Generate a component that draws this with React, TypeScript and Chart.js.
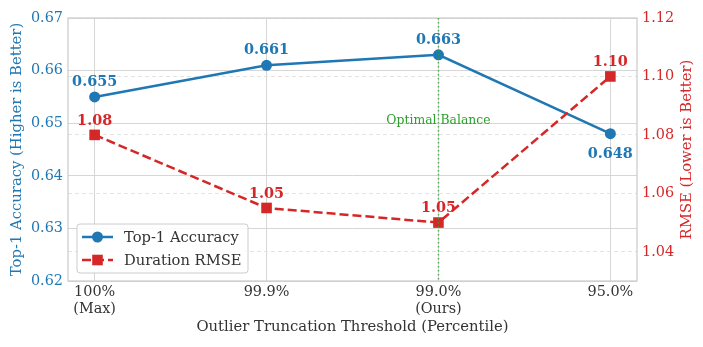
import React, { useEffect, useRef } from "react";
import { Chart, registerables } from "chart.js";

Chart.register(...registerables);

// Truncation thresholds (x categories), multi-line tick labels
const thresholds: string[][] = [["100%", "(Max)"], ["99.9%"], ["99.0%", "(Ours)"], ["95.0%"]];
// Top-1 accuracy per threshold (left axis)
const accuracy = [0.655, 0.661, 0.663, 0.648];
// Duration RMSE per threshold (right axis)
const rmse = [1.08, 1.055, 1.05, 1.1];
// Axis ticks
const accTicks = [0.62, 0.63, 0.64, 0.65, 0.66, 0.67];
const rmseTicks = [1.04, 1.06, 1.08, 1.1, 1.12];
// Highlighted threshold
const optimalIndex = 2;
const optimalLabel = "Optimal Balance";

const BLUE = "#1f77b4";
const RED = "#d62728";
const GREEN = "#2ca02c";
const DARK = "#333333";
const FONT = "'DejaVu Serif', serif";

const overlay = {
  id: "overlay",
  beforeDatasetsDraw(chart: any) {
    const { ctx, chartArea: a } = chart;
    ctx.save();
    ctx.strokeStyle = "#cccccc";
    ctx.lineWidth = 1.25;
    ctx.strokeRect(a.left, a.top, a.right - a.left, a.bottom - a.top);
    ctx.restore();
  },
  afterDatasetsDraw(chart: any) {
    const { ctx, chartArea: a, scales } = chart;
    const xs = scales.x, ys = scales.y, ys1 = scales.y1;
    ctx.save();
    // optimal threshold marker
    const ox = xs.getPixelForValue(optimalIndex);
    ctx.strokeStyle = "rgba(44,160,44,0.75)";
    ctx.lineWidth = 1.5;
    ctx.setLineDash([1.5, 2.5]);
    ctx.beginPath();
    ctx.moveTo(ox, a.top);
    ctx.lineTo(ox, a.bottom);
    ctx.stroke();
    ctx.setLineDash([]);
    ctx.fillStyle = GREEN;
    ctx.font = `12.4px ${FONT}`;
    ctx.textAlign = "center";
    ctx.textBaseline = "middle";
    ctx.fillText(optimalLabel, ox, ys.getPixelForValue(0.6505));

    // value labels
    ctx.font = `bold 14.4px ${FONT}`;
    accuracy.forEach((v, i) => {
      const px = xs.getPixelForValue(i);
      const py = ys.getPixelForValue(v);
      const below = i > 0 && v < accuracy[i - 1];
      ctx.fillStyle = BLUE;
      ctx.fillText(v.toFixed(3), px, below ? py + 21 : py - 15);
    });
    rmse.forEach((v, i) => {
      const px = xs.getPixelForValue(i);
      const py = ys1.getPixelForValue(v);
      ctx.fillStyle = RED;
      ctx.fillText(v.toFixed(2), px, py - 14);
    });
    ctx.restore();
  },
  afterDraw(chart: any) {
    const { ctx, chartArea: a, width, height } = chart;
    ctx.save();
    ctx.textAlign = "center";
    ctx.textBaseline = "middle";
    ctx.font = `14.8px ${FONT}`;
    const cy = (a.top + a.bottom) / 2;
    // left title
    ctx.save();
    ctx.translate(17, cy);
    ctx.rotate(-Math.PI / 2);
    ctx.fillStyle = BLUE;
    ctx.fillText("Top-1 Accuracy (Higher is Better)", 0, 0);
    ctx.restore();
    // right title
    ctx.save();
    ctx.translate(width - 16, cy);
    ctx.rotate(-Math.PI / 2);
    ctx.fillStyle = RED;
    ctx.fillText("RMSE (Lower is Better)", 0, 0);
    ctx.restore();
    // x title
    ctx.fillStyle = DARK;
    ctx.fillText("Outlier Truncation Threshold (Percentile)", (a.left + a.right) / 2, height - 20);

    // legend
    const bx = a.left + 9, by = a.bottom - 57, bw = 171, bh = 49;
    ctx.fillStyle = "rgba(255,255,255,0.85)";
    ctx.strokeStyle = "#cccccc";
    ctx.lineWidth = 1;
    ctx.beginPath();
    ctx.roundRect(bx, by, bw, bh, 3);
    ctx.fill();
    ctx.stroke();
    const rows = [
      { label: "Top-1 Accuracy", color: BLUE, dash: [] as number[], style: "circle" },
      { label: "Duration RMSE", color: RED, dash: [9, 4], style: "rect" },
    ];
    rows.forEach((r, k) => {
      const ry = by + 13 + k * 23;
      const hx0 = bx + 5, hx1 = bx + 36, hc = (hx0 + hx1) / 2;
      ctx.strokeStyle = r.color;
      ctx.lineWidth = 2.5;
      ctx.setLineDash(r.dash);
      ctx.beginPath();
      ctx.moveTo(hx0, ry);
      ctx.lineTo(hx1, ry);
      ctx.stroke();
      ctx.setLineDash([]);
      ctx.fillStyle = r.color;
      ctx.beginPath();
      if (r.style === "circle") ctx.arc(hc, ry, 5.5, 0, Math.PI * 2);
      else ctx.rect(hc - 5.3, ry - 5.3, 10.6, 10.6);
      ctx.fill();
      ctx.fillStyle = DARK;
      ctx.textAlign = "left";
      ctx.font = `14.7px ${FONT}`;
      ctx.fillText(r.label, bx + 47, ry + 1);
    });
    ctx.restore();
  },
};

export default function App() {
  const ref = useRef<HTMLCanvasElement | null>(null);

  useEffect(() => {
    if (!ref.current) return;
    const chart = new Chart(ref.current, {
      type: "line",
      data: {
        datasets: [
          {
            label: "Duration RMSE",
            data: rmse.map((v, i) => ({ x: i, y: v })),
            yAxisID: "y1",
            borderColor: RED,
            backgroundColor: RED,
            borderWidth: 2.5,
            borderDash: [9, 4],
            pointStyle: "rect",
            pointRadius: 7.5,
            pointBorderWidth: 0,
            order: 0,
          },
          {
            label: "Top-1 Accuracy",
            data: accuracy.map((v, i) => ({ x: i, y: v })),
            yAxisID: "y",
            borderColor: BLUE,
            backgroundColor: BLUE,
            borderWidth: 2.5,
            pointStyle: "circle",
            pointRadius: 5.5,
            pointBorderWidth: 0,
            order: 1,
          },
        ],
      },
      options: {
        animation: false,
        responsive: true,
        maintainAspectRatio: false,
        layout: { padding: { top: 18, left: 0, right: 0, bottom: 0 } },
        plugins: { legend: { display: false }, tooltip: { enabled: false } },
        scales: {
          x: {
            type: "linear",
            min: -0.155,
            max: thresholds.length - 1 + 0.155,
            afterBuildTicks: (s: any) => {
              s.ticks = thresholds.map((_, i) => ({ value: i }));
            },
            afterFit: (s: any) => {
              s.height = 66;
            },
            ticks: {
              callback: (v: any) => thresholds[Math.round(Number(v))],
              color: DARK,
              font: { family: FONT, size: 14.4, lineHeight: 1.15 },
              padding: 3,
              maxRotation: 0,
            },
            grid: { color: "#d6d6d6", lineWidth: 1, drawTicks: false },
            border: { display: false },
          },
          y: {
            position: "left",
            min: 0.62,
            max: 0.67,
            afterBuildTicks: (s: any) => {
              s.ticks = accTicks.map((v) => ({ value: v }));
            },
            afterFit: (s: any) => {
              s.width = 68;
            },
            ticks: {
              callback: (v: any) => Number(v).toFixed(2),
              color: BLUE,
              font: { family: FONT, size: 14.4 },
              padding: 5,
            },
            grid: { color: "#d6d6d6", lineWidth: 1, drawTicks: false },
            border: { display: false },
          },
          y1: {
            position: "right",
            min: 1.03,
            max: 1.12,
            afterBuildTicks: (s: any) => {
              s.ticks = rmseTicks.map((v) => ({ value: v }));
            },
            afterFit: (s: any) => {
              s.width = 66;
            },
            ticks: {
              callback: (v: any) => Number(v).toFixed(2),
              color: RED,
              font: { family: FONT, size: 14.4 },
              padding: 5,
            },
            grid: { color: "#e3e3e3", lineWidth: 1, drawTicks: false, drawOnChartArea: true },
            border: { display: false, dash: [4, 3] },
          },
        },
      },
      plugins: [overlay],
    } as any);
    return () => chart.destroy();
  }, []);

  return (
    <div style={{ position: "fixed", left: 0, top: 0, width: 703, height: 347, background: "#fff" }}>
      <canvas ref={ref} />
    </div>
  );
}
